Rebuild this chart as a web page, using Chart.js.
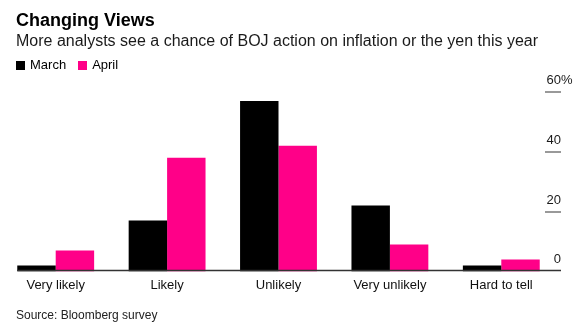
<!DOCTYPE html>
<html>
<head>
<meta charset="utf-8">
<script src="https://cdn.jsdelivr.net/npm/chart.js@4"></script>
<style>
  html, body { margin: 0; padding: 0; background: #fff; }
  body { width: 579px; height: 326px; position: relative; overflow: hidden; font-family: "Liberation Sans", Arial, sans-serif; color: #000; }
  .txt { position: absolute; left: 16px; white-space: nowrap; }
  #title { top: 11px; font-size: 18px; line-height: 18px; font-weight: bold; }
  #subtitle { top: 33px; font-size: 16px; line-height: 16px; color: #1a1a1a; }
  #legend { top: 58px; font-size: 13px; line-height: 13px; }
  #legend span.sw { display: inline-block; width: 9px; height: 9px; vertical-align: -1px; margin-right: 5px; }
  #legend span.item { margin-right: 12px; }
  #source { top: 309px; font-size: 12px; line-height: 12px; color: #222; }
  #wrap { position: absolute; left: 0; top: 0; width: 579px; height: 326px; }
</style>
</head>
<body>
<div id="wrap"><canvas id="chart" width="579" height="326"></canvas></div>
<div id="title" class="txt">Changing Views</div>
<div id="subtitle" class="txt">More analysts see a chance of BOJ action on inflation or the yen this year</div>
<div id="legend" class="txt"></div>
<div id="source" class="txt">Source: Bloomberg survey</div>
<script>
const categories = ['Very likely', 'Likely', 'Unlikely', 'Very unlikely', 'Hard to tell'];
const seriesNames = ['March', 'April'];
const marchValues = [2, 17, 57, 22, 2];
const aprilValues = [7, 38, 42, 9, 4];
const yTicks = [0, 20, 40, 60];
const colors = ['#000000', '#ff0088'];

// legend in html
const legendEl = document.getElementById('legend');
seriesNames.forEach((name, i) => {
    legendEl.innerHTML += `<span class="item"><span class="sw" style="background:${colors[i]}"></span>${name}</span>`;
});

// right side tick labels + baseline, bloomberg style
const axisDecor = {
    id: 'axisDecor',
    afterDatasetsDraw(chart) {
        const ctx = chart.ctx;
        const y = chart.scales.y;
        const tickLeft = 545, tickRight = 561;
        ctx.save();
        ctx.font = '13px "Liberation Sans", Arial, sans-serif';
        ctx.textBaseline = 'alphabetic';
        yTicks.forEach((v, i) => {
            const py = Math.round(y.getPixelForValue(v));
            if (v !== 0) {
                ctx.strokeStyle = '#999';
                ctx.lineWidth = 2;
                ctx.beginPath();
                ctx.moveTo(tickLeft, py);
                ctx.lineTo(tickRight, py);
                ctx.stroke();
            }
            ctx.fillStyle = '#1a1a1a';
            ctx.textAlign = 'right';
            ctx.fillText(String(v), tickRight, py - 8);
            if (i === yTicks.length - 1) {
                ctx.textAlign = 'left';
                ctx.fillText('%', tickRight, py - 8);
            }
        });
        // baseline
        const first = chart.getDatasetMeta(0).data[0];
        const x0 = first.x - first.width / 2;
        const by = Math.round(y.getPixelForValue(0)) - 0.5;
        ctx.strokeStyle = '#333';
        ctx.lineWidth = 1.5;
        ctx.beginPath();
        ctx.moveTo(x0, by);
        ctx.lineTo(tickRight, by);
        ctx.stroke();
        ctx.restore();
    }
};

new Chart(document.getElementById('chart').getContext('2d'), {
    type: 'bar',
    data: {
        labels: categories,
        datasets: [
            { label: seriesNames[0], data: marchValues, backgroundColor: colors[0] },
            { label: seriesNames[1], data: aprilValues, backgroundColor: colors[1] }
        ]
    },
    options: {
        responsive: false,
        animation: false,
        layout: { padding: { left: 0, right: 22, top: 92, bottom: 27 } },
        datasets: { bar: { barPercentage: 1, categoryPercentage: 0.69 } },
        plugins: { legend: { display: false }, tooltip: { enabled: false } },
        scales: {
            x: {
                grid: { display: false, drawTicks: false },
                border: { display: false },
                ticks: { padding: 6, color: '#111', font: { family: '"Liberation Sans", Arial, sans-serif', size: 13 }, maxRotation: 0 }
            },
            y: {
                display: false,
                min: 0,
                max: 60
            }
        }
    },
    plugins: [axisDecor]
});
</script>
</body>
</html>
